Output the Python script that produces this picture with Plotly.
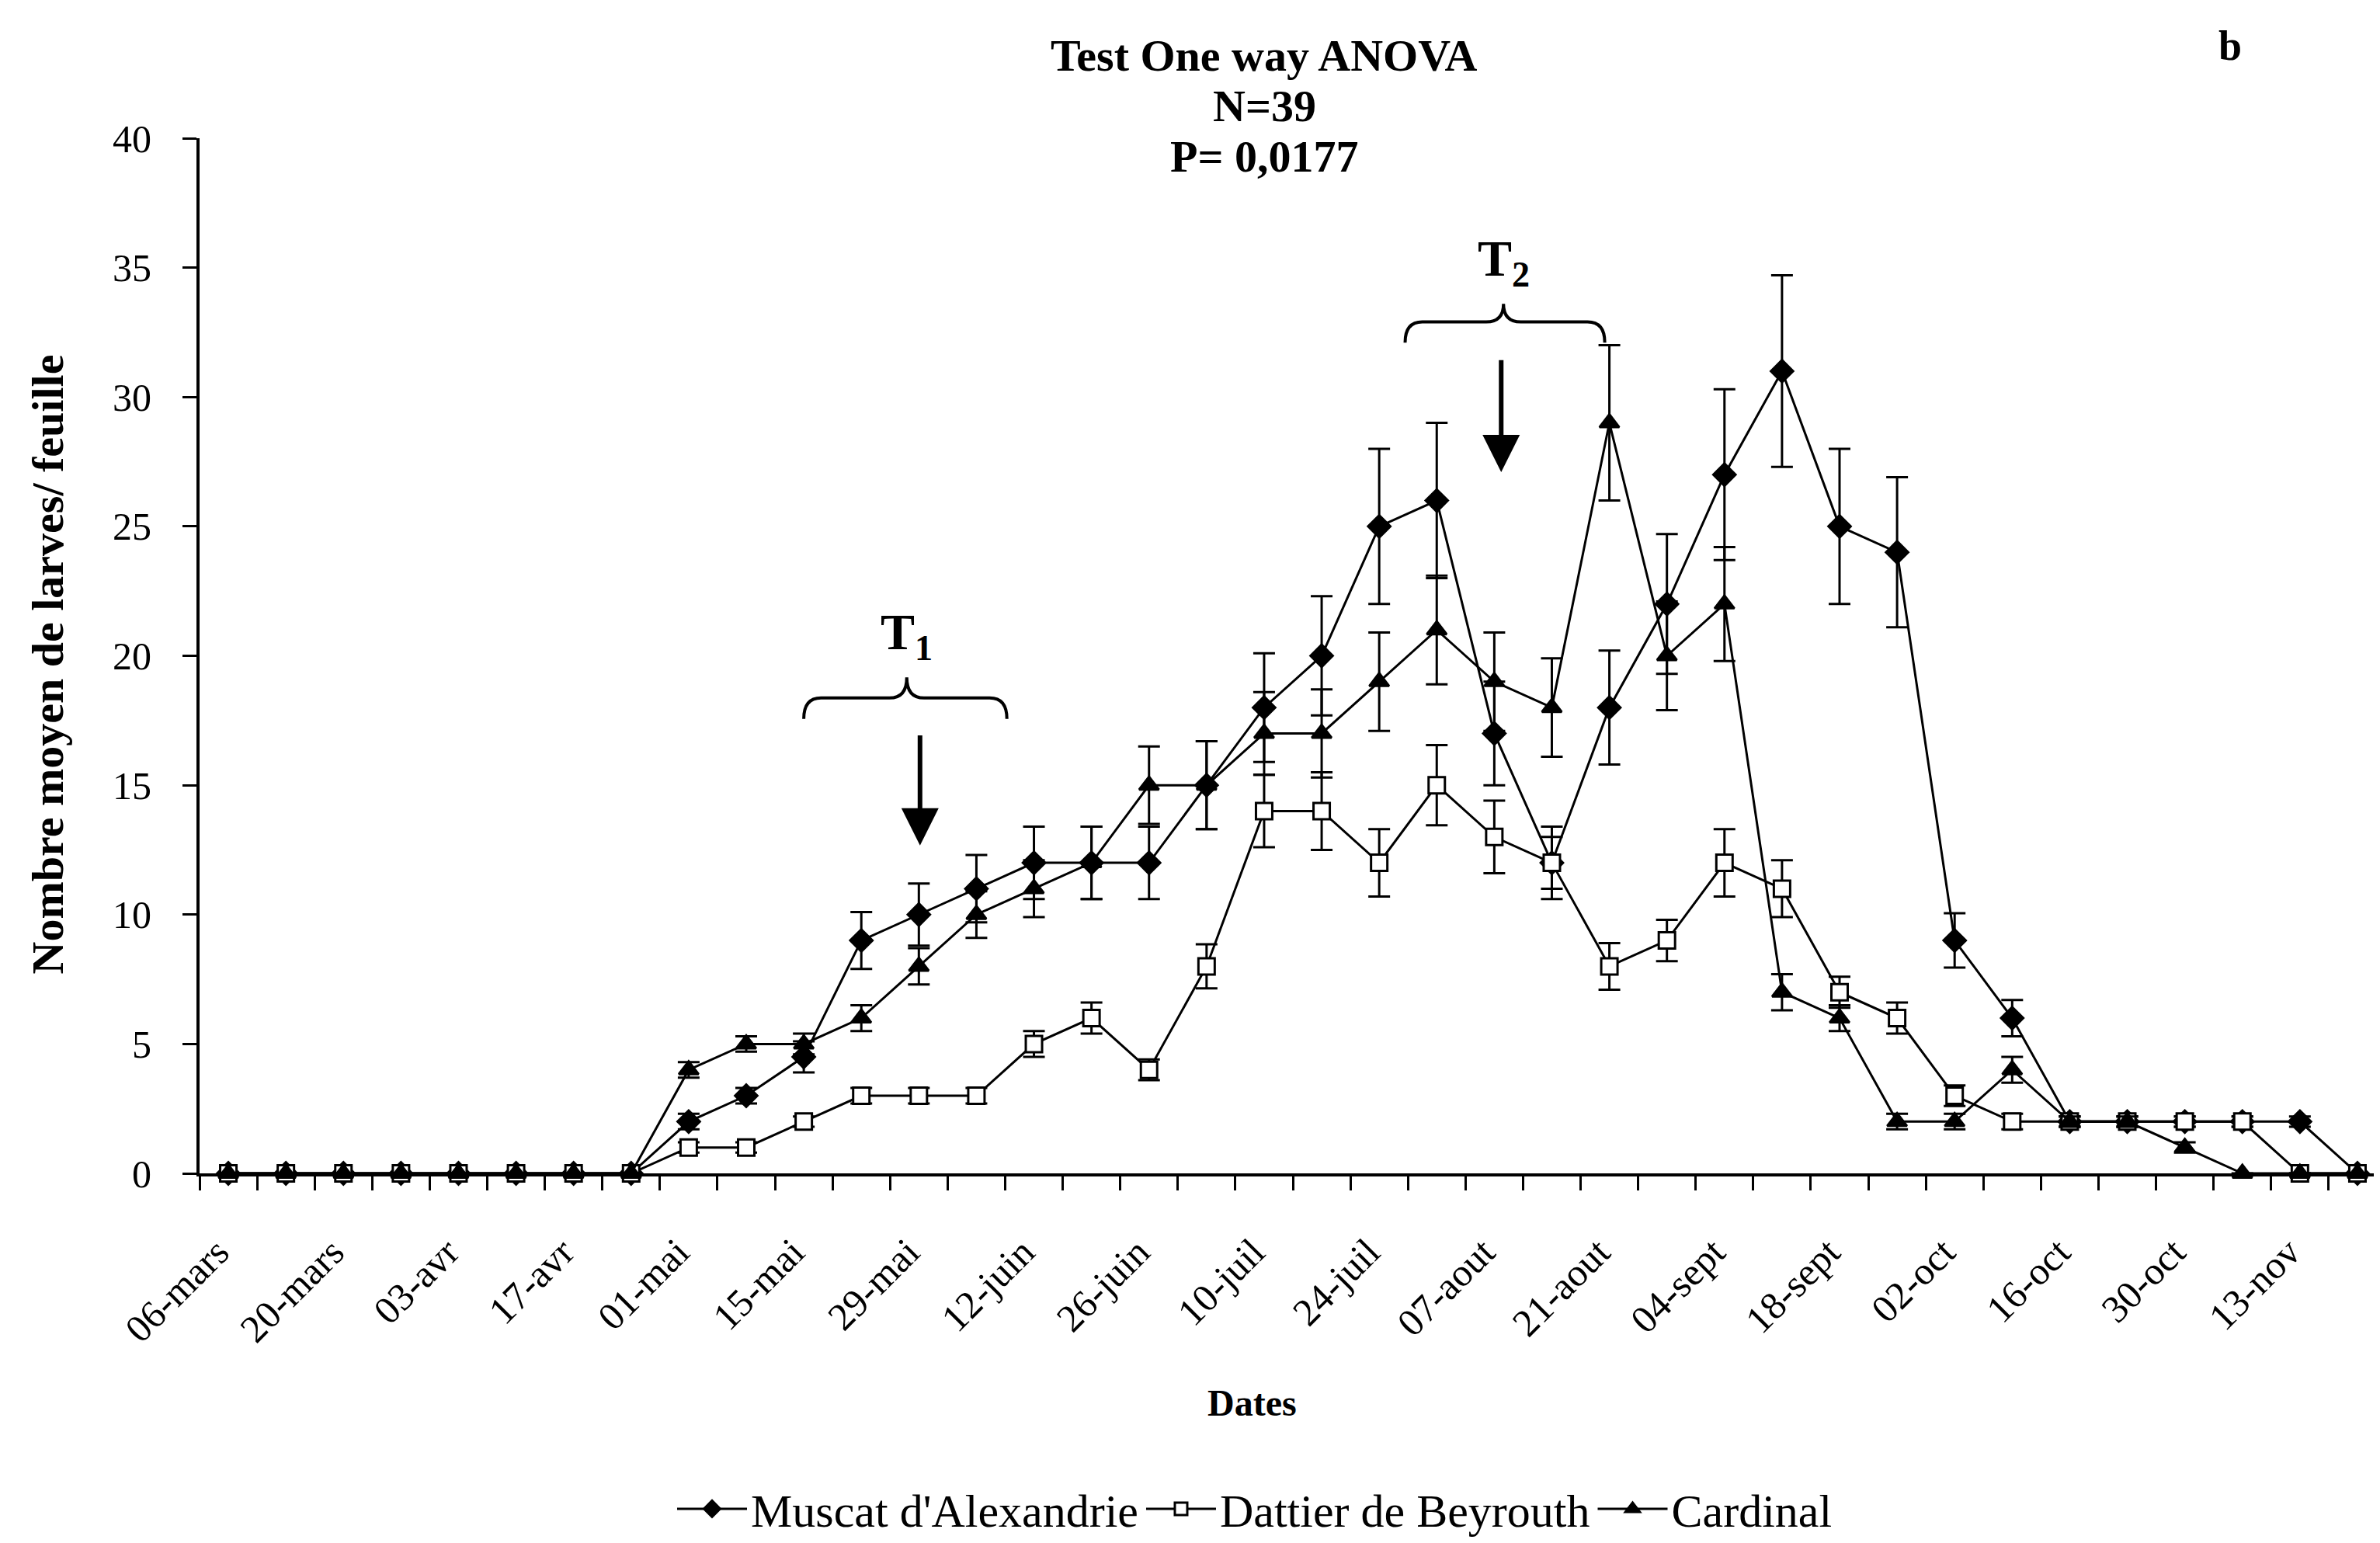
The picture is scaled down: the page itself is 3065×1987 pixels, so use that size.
import plotly.graph_objects as go

# ---------------- data ----------------
dates = ["06-mars", "13-mars", "20-mars", "27-mars", "03-avr", "10-avr", "17-avr", "24-avr",
         "01-mai", "08-mai", "15-mai", "22-mai", "29-mai", "05-juin", "12-juin", "19-juin",
         "26-juin", "03-juil", "10-juil", "17-juil", "24-juil", "31-juil", "07-aout", "14-aout",
         "21-aout", "28-aout", "04-sept", "11-sept", "18-sept", "25-sept", "02-oct", "09-oct",
         "16-oct", "23-oct", "30-oct", "06-nov", "13-nov", "20-nov"]
tick_labels = ["06-mars", "20-mars", "03-avr", "17-avr", "01-mai", "15-mai", "29-mai",
               "12-juin", "26-juin", "10-juil", "24-juil", "07-aout", "21-aout", "04-sept",
               "18-sept", "02-oct", "16-oct", "30-oct", "13-nov"]

muscat = [0, 0, 0, 0, 0, 0, 0, 0, 2, 3, 4.5, 9, 10, 11, 12, 12, 12, 15, 18, 20,
          25, 26, 17, 12, 18, 22, 27, 31, 25, 24, 9, 6, 2, 2, 2, 2, 2, 0]
muscat_err = [0, 0, 0, 0, 0, 0, 0, 0, 0.3, 0.3, 0.6, 1.1, 1.2, 1.3, 1.4, 1.4, 1.4, 1.7, 2.1, 2.3,
              3, 3, 2, 1.4, 2.2, 2.7, 3.3, 3.7, 3, 2.9, 1.05, 0.7, 0.2, 0.2, 0.2, 0.2, 0.2, 0]

dattier = [0, 0, 0, 0, 0, 0, 0, 0, 1, 1, 2, 3, 3, 3, 5, 6, 4, 8, 14, 14,
           12, 15, 13, 12, 8, 9, 12, 11, 7, 6, 3, 2, 2, 2, 2, 2, 0, 0]
dattier_err = [0, 0, 0, 0, 0, 0, 0, 0, 0.2, 0.2, 0.2, 0.3, 0.3, 0.3, 0.5, 0.6, 0.4, 0.85, 1.4, 1.5,
               1.3, 1.55, 1.4, 1.0, 0.9, 0.8, 1.3, 1.1, 0.6, 0.6, 0.4, 0.3, 0.2, 0.2, 0.2, 0.2, 0, 0]

cardinal = [0, 0, 0, 0, 0, 0, 0, 0, 4, 5, 5, 6, 8, 10, 11, 12, 15, 15, 17, 17,
            19, 21, 19, 18, 29, 20, 22, 7, 6, 2, 2, 4, 2, 2, 1, 0, 0, 0]
cardinal_err = [0, 0, 0, 0, 0, 0, 0, 0, 0.3, 0.3, 0.4, 0.5, 0.7, 0.9, 1.1, 1.4, 1.5, 1.7, 1.6, 1.7,
                1.9, 2.1, 1.9, 1.9, 3, 2.1, 2.2, 0.7, 0.5, 0.3, 0.3, 0.5, 0.2, 0.2, 0.2, 0, 0, 0]

series_names = ["Muscat d'Alexandrie", "Dattier de Beyrouth", "Cardinal"]

# ---------------- figure ----------------
FONT = "Liberation Serif, Times New Roman, serif"
x = list(range(len(dates)))          # position index of each sampling date
label_pos = [dates.index(t) for t in tick_labels]

fig = go.Figure()

def add_series(y, err, name, symbol, size, fill):
    fig.add_trace(go.Scatter(
        x=x, y=y, name=name, mode="lines+markers",
        line=dict(color="black", width=3),
        marker=dict(symbol=symbol, size=size, color=fill,
                    line=dict(color="black", width=3)),
        error_y=dict(type="data", array=err, visible=True,
                     color="black", thickness=3, width=14),
        cliponaxis=False,
        customdata=dates,
        hovertemplate="%{customdata}: %{y}<extra>" + name + "</extra>",
    ))

add_series(muscat, muscat_err, series_names[0], "diamond", 22, "black")
add_series(dattier, dattier_err, series_names[1], "square", 21, "white")
add_series(cardinal, cardinal_err, series_names[2], "triangle-up", 22, "black")

# Treatment braces (T1, T2)
def brace(x0, x1, xc, y_end, y_line, y_tip, d=0.3):
    return (f"M {x0},{y_end} Q {x0},{y_line} {x0 + d},{y_line} "
            f"L {xc - d},{y_line} Q {xc},{y_line} {xc},{y_tip} "
            f"Q {xc},{y_line} {xc + d},{y_line} "
            f"L {x1 - d},{y_line} Q {x1},{y_line} {x1},{y_end}")

treatments = [
    # label, brace x0, x1, centre, y_end, y_line, y_tip, arrow x, arrow top, arrow tip
    ("T<sub>1</sub>", 10.0, 13.53, 11.79, 17.56, 18.37, 19.17, 12.02, 16.97, 12.67),
    ("T<sub>2</sub>", 20.45, 23.92, 22.16, 32.1, 32.9, 33.6, 22.12, 31.47, 27.1),
]
for lab, bx0, bx1, bxc, ye, yl, yt, axx, atop, atip in treatments:
    fig.add_shape(type="path", path=brace(bx0, bx1, bxc, ye, yl, yt),
                  xref="x", yref="y", line=dict(color="black", width=4))
    fig.add_annotation(x=axx, y=atip, ax=axx, ay=atop, xref="x", yref="y",
                       axref="x", ayref="y", showarrow=True, arrowhead=2,
                       arrowsize=1.6, arrowwidth=6, arrowcolor="black", text="")
    fig.add_annotation(x=bxc, y=yt + 0.3, xref="x", yref="y", text=f"<b>{lab}</b>",
                       showarrow=False, xanchor="center", yanchor="bottom",
                       font=dict(family=FONT, size=66, color="black"))

# Titles / labels
title_lines = ["Test One way ANOVA", "N=39", "P= 0,0177"]
title_y = [1.0796, 1.0308, 0.9827]
for t, ty in zip(title_lines, title_y):
    fig.add_annotation(x=0.487, y=ty, xref="paper", yref="paper", text=f"<b>{t}</b>",
                       showarrow=False, xanchor="center", yanchor="middle",
                       font=dict(family=FONT, size=58, color="black"))
fig.add_annotation(x=0.9285, y=1.089, xref="paper", yref="paper", text="<b>b</b>",
                   showarrow=False, xanchor="center", yanchor="middle",
                   font=dict(family=FONT, size=54, color="black"))
fig.add_annotation(x=0.4815, y=-0.222, xref="paper", yref="paper", text="<b>Dates</b>",
                   showarrow=False, xanchor="center", yanchor="middle",
                   font=dict(family=FONT, size=48, color="black"))
fig.add_annotation(x=-0.0695, y=0.492, xref="paper", yref="paper",
                   text="<b>Nombre moyen de larves/ feuille</b>", textangle=-90,
                   showarrow=False, xanchor="center", yanchor="middle",
                   font=dict(family=FONT, size=58, color="black"))

fig.update_xaxes(
    range=[-0.5, len(dates) - 0.5],
    tickmode="array", tickvals=label_pos, ticktext=tick_labels,
    tickangle=-45, ticks="", ticklabelstandoff=48, ticklabelshift=-14,
    tickfont=dict(family=FONT, size=50, color="black"),
    minor=dict(tickmode="linear", tick0=0.5, dtick=1, ticks="outside",
               ticklen=18, tickwidth=3, tickcolor="black"),
    showline=True, linecolor="black", linewidth=4,
    showgrid=False, zeroline=False, mirror=False, automargin=False,
)
fig.update_yaxes(
    range=[0, 40], dtick=5, tick0=0, ticks="outside", ticklen=18, tickwidth=3,
    tickcolor="black", ticklabelstandoff=30,
    tickfont=dict(family=FONT, size=50, color="black"),
    showline=True, linecolor="black", linewidth=4,
    showgrid=False, zeroline=False, automargin=False,
)

fig.update_layout(
    width=3065, height=1987,
    margin=dict(l=249, r=0, t=170, b=484, autoexpand=False),
    plot_bgcolor="white", paper_bgcolor="white",
    font=dict(family=FONT, color="black"),
    showlegend=True,
    legend=dict(orientation="h", x=0.4826, xanchor="center", y=-0.324, yanchor="middle",
                font=dict(family=FONT, size=60, color="black"),
                itemwidth=90, traceorder="normal", bgcolor="rgba(0,0,0,0)"),
)

fig.write_html("out.html")
